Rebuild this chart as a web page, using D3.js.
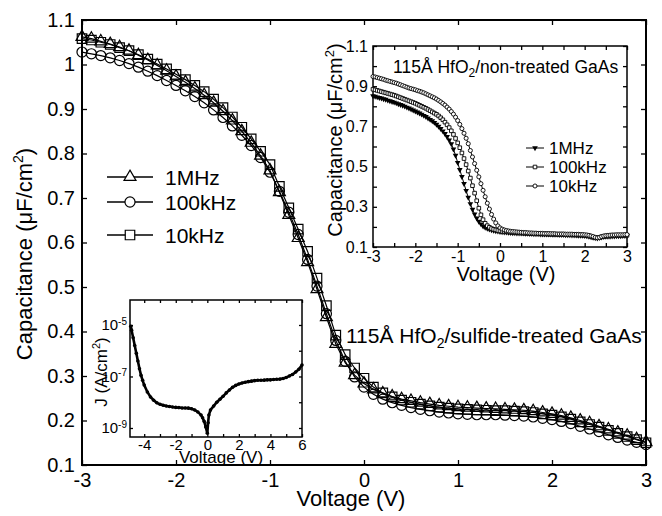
<!DOCTYPE html>
<html><head><meta charset="utf-8">
<script src="https://cdn.jsdelivr.net/npm/d3@7"></script>
<style>
body{margin:0;background:#fff}
svg{font-family:"Liberation Sans",Arial,sans-serif}
</style></head><body>
<svg width="662" height="516"></svg>
<script>
// main C-V, sulfide-treated GaAs, 0.1 V steps
var mainV = [-3.0,-2.9,-2.8,-2.7,-2.6,-2.5,-2.4,-2.3,-2.2,-2.1,
  -2.0,-1.9,-1.8,-1.7,-1.6,-1.5,-1.4,-1.3,-1.2,-1.1,
  -1.0,-0.9,-0.8,-0.7,-0.6,-0.5,-0.4,-0.3,-0.2,-0.1,
  0.0,0.1,0.2,0.3,0.4,0.5,0.6,0.7,0.8,0.9,
  1.0,1.1,1.2,1.3,1.4,1.5,1.6,1.7,1.8,1.9,
  2.0,2.1,2.2,2.3,2.4,2.5,2.6,2.7,2.8,2.9,3.0]
var c1MHz = [1.062,1.058,1.052,1.046,1.039,1.031,1.021,1.010,0.998,0.986,
  0.973,0.960,0.946,0.931,0.914,0.895,0.874,0.850,0.824,0.795,
  0.762,0.713,0.662,0.610,0.556,0.495,0.432,0.372,0.330,0.302,
  0.283,0.270,0.261,0.254,0.248,0.244,0.240,0.237,0.234,0.232,
  0.230,0.229,0.228,0.227,0.226,0.225,0.224,0.223,0.221,0.218,
  0.215,0.211,0.206,0.200,0.194,0.187,0.180,0.173,0.166,0.158,0.151]
var c100kHz = [1.028,1.024,1.020,1.015,1.009,1.002,0.994,0.985,0.975,0.964,
  0.953,0.941,0.928,0.914,0.898,0.881,0.862,0.841,0.818,0.791,
  0.758,0.715,0.668,0.618,0.562,0.502,0.440,0.380,0.333,0.298,
  0.275,0.259,0.248,0.240,0.234,0.229,0.225,0.222,0.219,0.217,
  0.215,0.214,0.213,0.213,0.213,0.212,0.211,0.210,0.208,0.205,
  0.202,0.198,0.193,0.187,0.181,0.175,0.168,0.162,0.156,0.151,0.146]
var c10kHz = [1.058,1.055,1.050,1.045,1.038,1.031,1.022,1.012,1.001,0.990,
  0.978,0.966,0.953,0.939,0.922,0.903,0.882,0.859,0.833,0.805,
  0.775,0.726,0.678,0.630,0.580,0.520,0.458,0.392,0.348,0.318,
  0.295,0.275,0.262,0.253,0.246,0.241,0.237,0.233,0.230,0.228,
  0.226,0.225,0.224,0.223,0.222,0.222,0.221,0.220,0.218,0.215,
  0.212,0.208,0.203,0.197,0.191,0.185,0.178,0.171,0.164,0.157,0.150]
var mainYTicks = [0.1,0.2,0.3,0.4,0.5,0.6,0.7,0.8,0.9,1,1.1]
var mainXTicks = [-3,-2,-1,0,1,2,3]
var legendNames = ["1MHz","100kHz","10kHz"]

// inset: non-treated GaAs, 0.05 V steps
var inV = [-3.00,-2.95,-2.90,-2.85,-2.80,-2.75,-2.70,-2.65,-2.60,-2.55,
  -2.50,-2.45,-2.40,-2.35,-2.30,-2.25,-2.20,-2.15,-2.10,-2.05,
  -2.00,-1.95,-1.90,-1.85,-1.80,-1.75,-1.70,-1.65,-1.60,-1.55,
  -1.50,-1.45,-1.40,-1.35,-1.30,-1.25,-1.20,-1.15,-1.10,-1.05,
  -1.00,-0.95,-0.90,-0.85,-0.80,-0.75,-0.70,-0.65,-0.60,-0.55,
  -0.50,-0.45,-0.40,-0.35,-0.30,-0.25,-0.20,-0.15,-0.10,-0.05,
  0.00,0.05,0.10,0.15,0.20,0.25,0.30,0.35,0.40,0.45,
  0.50,0.55,0.60,0.65,0.70,0.75,0.80,0.85,0.90,0.95,
  1.00,1.05,1.10,1.15,1.20,1.25,1.30,1.35,1.40,1.45,
  1.50,1.55,1.60,1.65,1.70,1.75,1.80,1.85,1.90,1.95,
  2.00,2.05,2.10,2.15,2.20,2.25,2.30,2.35,2.40,2.45,
  2.50,2.55,2.60,2.65,2.70,2.75,2.80,2.85,2.90,2.95,3.00]
var n1MHz = [0.852,0.849,0.846,0.843,0.840,0.837,0.834,0.830,0.827,0.823,
  0.820,0.816,0.812,0.808,0.804,0.800,0.795,0.791,0.786,0.781,
  0.776,0.771,0.766,0.760,0.754,0.748,0.741,0.734,0.727,0.719,
  0.710,0.700,0.689,0.677,0.664,0.649,0.632,0.613,0.587,0.556,
  0.520,0.485,0.450,0.415,0.380,0.347,0.315,0.287,0.263,0.243,
  0.227,0.214,0.204,0.197,0.192,0.188,0.185,0.182,0.180,0.178,
  0.176,0.175,0.174,0.173,0.172,0.171,0.170,0.170,0.169,0.169,
  0.168,0.168,0.167,0.167,0.166,0.166,0.165,0.165,0.165,0.164,
  0.164,0.164,0.163,0.163,0.163,0.162,0.162,0.162,0.161,0.161,
  0.161,0.160,0.160,0.160,0.159,0.159,0.159,0.158,0.158,0.157,
  0.156,0.155,0.153,0.150,0.147,0.145,0.144,0.146,0.149,0.151,
  0.152,0.153,0.153,0.154,0.154,0.155,0.155,0.155,0.156,0.156,0.156]
var n100kHz = [0.885,0.882,0.879,0.876,0.873,0.870,0.867,0.864,0.861,0.858,
  0.855,0.851,0.847,0.843,0.839,0.835,0.831,0.827,0.823,0.819,
  0.815,0.810,0.805,0.800,0.795,0.790,0.784,0.778,0.772,0.766,
  0.760,0.752,0.743,0.733,0.721,0.708,0.694,0.678,0.660,0.640,
  0.618,0.594,0.568,0.540,0.510,0.478,0.443,0.405,0.368,0.330,
  0.293,0.260,0.236,0.218,0.206,0.198,0.192,0.188,0.185,0.182,
  0.180,0.178,0.177,0.176,0.175,0.174,0.173,0.172,0.171,0.171,
  0.170,0.169,0.169,0.168,0.168,0.167,0.167,0.166,0.166,0.166,
  0.165,0.165,0.165,0.164,0.164,0.164,0.163,0.163,0.163,0.163,
  0.162,0.162,0.162,0.161,0.161,0.161,0.160,0.160,0.160,0.159,
  0.158,0.157,0.155,0.152,0.149,0.147,0.146,0.148,0.151,0.153,
  0.154,0.155,0.156,0.156,0.157,0.157,0.157,0.158,0.158,0.158,0.158]
var n10kHz = [0.948,0.946,0.943,0.940,0.937,0.934,0.930,0.927,0.924,0.921,
  0.918,0.915,0.911,0.907,0.903,0.899,0.895,0.891,0.888,0.885,
  0.882,0.878,0.875,0.871,0.867,0.862,0.857,0.852,0.847,0.842,
  0.836,0.829,0.822,0.814,0.806,0.796,0.786,0.774,0.761,0.746,
  0.729,0.710,0.689,0.666,0.641,0.614,0.580,0.548,0.515,0.482,
  0.449,0.415,0.382,0.350,0.318,0.289,0.262,0.239,0.220,0.205,
  0.195,0.189,0.185,0.182,0.180,0.178,0.177,0.176,0.175,0.174,
  0.173,0.172,0.172,0.171,0.170,0.170,0.169,0.169,0.168,0.168,
  0.168,0.167,0.167,0.167,0.166,0.166,0.166,0.165,0.165,0.165,
  0.165,0.164,0.164,0.164,0.164,0.163,0.163,0.163,0.162,0.162,
  0.161,0.160,0.158,0.155,0.152,0.148,0.146,0.148,0.152,0.155,
  0.157,0.158,0.159,0.160,0.160,0.161,0.161,0.161,0.161,0.162,0.162]
var inYTicks = [0.1,0.3,0.5,0.7,0.9,1.1]

// leakage J-V
var jV = [-4.85,-4.8,-4.7,-4.6,-4.5,-4.4,-4.3,-4.2,-4.1,-4.0,
  -3.8,-3.6,-3.4,-3.2,-3.0,-2.8,-2.6,-2.4,-2.2,-2.0,
  -1.8,-1.6,-1.4,-1.2,-1.0,-0.8,-0.6,-0.4,-0.3,-0.2,-0.1,0.0,
  0.05,0.1,0.2,0.4,0.6,0.8,1.0,1.2,1.4,1.6,1.8,2.0,
  2.2,2.4,2.6,2.8,3.0,3.2,3.4,3.6,3.8,4.0,
  4.2,4.4,4.6,4.8,5.0,5.2,5.4,5.6,5.8,6.0]
var jA = [8.9e-6,6.3e-6,3.2e-6,1.6e-6,7.9e-7,4.0e-7,2.0e-7,1.1e-7,7.1e-8,4.7e-8,
  2.5e-8,1.6e-8,1.2e-8,9.5e-9,8.3e-9,7.6e-9,7.1e-9,6.8e-9,6.5e-9,6.3e-9,
  6.2e-9,6.0e-9,6.0e-9,5.9e-9,5.6e-9,5.0e-9,4.2e-9,3.2e-9,2.5e-9,1.8e-9,1.1e-9,6.3e-10,
  1.6e-9,3.2e-9,5.0e-9,7.1e-9,1.0e-8,1.3e-8,1.7e-8,2.3e-8,3.0e-8,3.8e-8,4.5e-8,5.1e-8,
  5.6e-8,6.0e-8,6.3e-8,6.6e-8,6.9e-8,7.1e-8,7.1e-8,7.2e-8,7.4e-8,7.4e-8,
  7.6e-8,7.8e-8,7.9e-8,8.3e-8,9.1e-8,1.05e-7,1.2e-7,1.5e-7,1.9e-7,2.8e-7]
var jXTicks = [-4,-2,0,2,4,6]
var jYTicks = [1e-9,1e-7,1e-5]

var svg = d3.select("svg")
var plain = d => String(d)

function addFrame(x0, y0, x1, y1, w) {
  svg.append("rect").attr("x", x0).attr("y", y0)
    .attr("width", x1 - x0).attr("height", y1 - y0)
    .attr("fill", "#fff").attr("stroke", "#000").attr("stroke-width", w)
}

function cleanAxis(g) {
  g.select(".domain").remove()
  g.selectAll("line").attr("stroke", "#000").attr("stroke-width", 1.3)
  g.selectAll("text").attr("fill", "#000").attr("font-family", null)
}

// ---------- main chart ----------
var x = d3.scaleLinear().domain([-3, 3]).range([82, 646])
var y = d3.scaleLinear().domain([0.1, 1.1]).range([465, 20])

svg.append("g").attr("transform", "translate(0,465)")
  .call(d3.axisBottom(x).tickValues(mainXTicks).tickSizeInner(-5).tickSizeOuter(0).tickPadding(8).tickFormat(plain))
  .call(cleanAxis).attr("font-size", 20)
svg.append("g").attr("transform", "translate(0,20)")
  .call(d3.axisTop(x).tickValues(mainXTicks).tickSizeInner(-5).tickSizeOuter(0).tickFormat(""))
  .call(cleanAxis)
svg.append("g").attr("transform", "translate(82,0)")
  .call(d3.axisLeft(y).tickValues(mainYTicks).tickSizeInner(-5).tickSizeOuter(0).tickPadding(7)
    .tickFormat(d => d === 1 ? "1" : d3.format(".1f")(d)))
  .call(cleanAxis).attr("font-size", 20)
svg.append("g").attr("transform", "translate(646,0)")
  .call(d3.axisRight(y).tickValues(mainYTicks).tickSizeInner(-5).tickSizeOuter(0).tickFormat(""))
  .call(cleanAxis)

svg.append("path")
  .attr("d", `M82,20H646V465H82Z`)
  .attr("fill", "none").attr("stroke", "#000").attr("stroke-width", 2)

var mainSeries = [
  {vals: c100kHz, sym: d3.symbolCircle, size: 80},
  {vals: c1MHz, sym: d3.symbolTriangle, size: 62},
  {vals: c10kHz, sym: d3.symbolSquare, size: 90}
]
var line = d3.line().x(d => x(d[0])).y(d => y(d[1]))

mainSeries.forEach(s => {
  var pts = mainV.map((v, i) => [v, s.vals[i]])
  svg.append("path").datum(pts).attr("d", line)
    .attr("fill", "none").attr("stroke", "#000").attr("stroke-width", 1.2)
  svg.append("g").selectAll("path").data(pts).join("path")
    .attr("transform", d => `translate(${x(d[0])},${y(d[1])})`)
    .attr("d", d3.symbol(s.sym, s.size))
    .attr("fill", "none").attr("stroke", "#000").attr("stroke-width", 1.2)
})

// main legend
var legSyms = [[d3.symbolTriangle, 62], [d3.symbolCircle, 80], [d3.symbolSquare, 90]]
var legY = [177, 202, 235]
legendNames.forEach((n, i) => {
  svg.append("line").attr("x1", 107).attr("x2", 153).attr("y1", legY[i]).attr("y2", legY[i])
    .attr("stroke", "#000").attr("stroke-width", 1.3)
  svg.append("path").attr("transform", `translate(130,${legY[i]})`)
    .attr("d", d3.symbol(legSyms[i][0], legSyms[i][1])())
    .attr("fill", "#fff").attr("stroke", "#000").attr("stroke-width", 1.2)
  svg.append("text").attr("x", 165).attr("y", legY[i] + 7.5).attr("font-size", 21).text(n)
})

// annotation
var ann = svg.append("text").attr("x", 346).attr("y", 343).attr("font-size", 21)
ann.append("tspan").text("115Å HfO")
ann.append("tspan").attr("font-size", 14).attr("dy", 5).text("2")
ann.append("tspan").attr("dy", -5).text("/sulfide-treated GaAs")

// main labels
svg.append("text").attr("x", 351).attr("y", 506).attr("text-anchor", "middle")
  .attr("font-size", 22).text("Voltage (V)")
var yl = svg.append("text").attr("transform", "translate(32,254) rotate(-90)")
  .attr("text-anchor", "middle").attr("font-size", 22)
yl.append("tspan").text("Capacitance (μF/cm")
yl.append("tspan").attr("font-size", 14).attr("dy", -9).text("2")
yl.append("tspan").attr("dy", 9).text(")")

// ---------- inset 1: non-treated ----------
var ix = d3.scaleLinear().domain([-3, 3]).range([373, 627])
var iy = d3.scaleLinear().domain([0.1, 1.1]).range([247, 46])
addFrame(373, 46, 627, 247, 1.5)

var halfV = [-3,-2.5,-2,-1.5,-1,-0.5,0,0.5,1,1.5,2,2.5,3]
var tenthC = [0.1,0.2,0.3,0.4,0.5,0.6,0.7,0.8,0.9,1.0,1.1]
svg.append("g").attr("transform", "translate(0,247)")
  .call(d3.axisBottom(ix).tickValues(halfV).tickSizeInner(-4).tickSizeOuter(0).tickFormat(""))
  .call(cleanAxis)
svg.append("g").attr("transform", "translate(0,247)")
  .call(d3.axisBottom(ix).tickValues(mainXTicks).tickSizeInner(0).tickSizeOuter(0).tickPadding(4).tickFormat(plain))
  .call(cleanAxis).attr("font-size", 16)
svg.append("g").attr("transform", "translate(0,46)")
  .call(d3.axisTop(ix).tickValues(halfV).tickSizeInner(-4).tickSizeOuter(0).tickFormat(""))
  .call(cleanAxis)
svg.append("g").attr("transform", "translate(373,0)")
  .call(d3.axisLeft(iy).tickValues(tenthC).tickSizeInner(-4).tickSizeOuter(0).tickFormat(""))
  .call(cleanAxis)
svg.append("g").attr("transform", "translate(373,0)")
  .call(d3.axisLeft(iy).tickValues(inYTicks).tickSizeInner(0).tickSizeOuter(0).tickPadding(5)
    .tickFormat(d3.format(".1f")))
  .call(cleanAxis).attr("font-size", 16)
svg.append("g").attr("transform", "translate(627,0)")
  .call(d3.axisRight(iy).tickValues(tenthC).tickSizeInner(-4).tickSizeOuter(0).tickFormat(""))
  .call(cleanAxis)

var triDown = d3.symbol(d3.symbolTriangle, 14)
var inSeries = [
  {vals: n1MHz, draw: g => g.attr("d", triDown).attr("fill", "#000").attr("stroke", "none"), rot: 180},
  {vals: n100kHz, draw: g => g.attr("d", d3.symbol(d3.symbolSquare, 13)).attr("fill", "#fff").attr("stroke", "#000").attr("stroke-width", 0.9), rot: 0},
  {vals: n10kHz, draw: g => g.attr("d", d3.symbol(d3.symbolCircle, 13)).attr("fill", "#fff").attr("stroke", "#000").attr("stroke-width", 0.9), rot: 0}
]
var iline = d3.line().x(d => ix(d[0])).y(d => iy(d[1]))
inSeries.forEach(s => {
  var pts = inV.map((v, i) => [v, s.vals[i]])
  svg.append("path").datum(pts).attr("d", iline)
    .attr("fill", "none").attr("stroke", "#000").attr("stroke-width", 1)
  svg.append("g").selectAll("path").data(pts).join("path")
    .attr("transform", d => `translate(${ix(d[0])},${iy(d[1])}) rotate(${s.rot})`)
    .call(s.draw)
})

// inset 1 legend
var inLegY = [148, 167, 186]
inSeries.forEach((s, i) => {
  svg.append("line").attr("x1", 526).attr("x2", 544).attr("y1", inLegY[i]).attr("y2", inLegY[i])
    .attr("stroke", "#000").attr("stroke-width", 1)
  svg.append("path").attr("transform", `translate(535,${inLegY[i]}) rotate(${s.rot})`).call(s.draw)
  svg.append("text").attr("x", 549).attr("y", inLegY[i] + 6).attr("font-size", 17).text(legendNames[i])
})

var ann2 = svg.append("text").attr("x", 393).attr("y", 73).attr("font-size", 17.5)
ann2.append("tspan").text("115Å HfO")
ann2.append("tspan").attr("font-size", 12).attr("dy", 4).text("2")
ann2.append("tspan").attr("dy", -4).text("/non-treated GaAs")

svg.append("text").attr("x", 506).attr("y", 281).attr("text-anchor", "middle")
  .attr("font-size", 20).text("Voltage (V)")
var yl2 = svg.append("text").attr("transform", "translate(342,140) rotate(-90)")
  .attr("text-anchor", "middle").attr("font-size", 20)
yl2.append("tspan").text("Capacitance (μF/cm")
yl2.append("tspan").attr("font-size", 13).attr("dy", -8).text("2")
yl2.append("tspan").attr("dy", 8).text(")")

// ---------- inset 2: J-V ----------
var jx = d3.scaleLinear().domain([-4.9, 6]).range([130, 302])
var jy = d3.scaleLog().domain([Math.pow(10, -9.35), Math.pow(10, -4.03)]).range([437, 300])
addFrame(130, 300, 302, 437, 1.5)

var unitV = [-4,-3,-2,-1,0,1,2,3,4,5,6]
var decades = [1e-9,1e-8,1e-7,1e-6,1e-5]
svg.append("g").attr("transform", "translate(0,437)")
  .call(d3.axisBottom(jx).tickValues(unitV).tickSizeInner(-3).tickSizeOuter(0).tickFormat(""))
  .call(cleanAxis)
svg.append("g").attr("transform", "translate(0,437)")
  .call(d3.axisBottom(jx).tickValues(jXTicks).tickSizeInner(0).tickSizeOuter(0).tickPadding(2).tickFormat(plain))
  .call(cleanAxis).attr("font-size", 15)
svg.append("g").attr("transform", "translate(0,300)")
  .call(d3.axisTop(jx).tickValues(unitV).tickSizeInner(-3).tickSizeOuter(0).tickFormat(""))
  .call(cleanAxis)
svg.append("g").attr("transform", "translate(302,0)")
  .call(d3.axisRight(jy).tickValues(decades).tickSizeInner(-3).tickSizeOuter(0).tickFormat(""))
  .call(cleanAxis)
var jyAxis = svg.append("g").attr("transform", "translate(130,0)")
  .call(d3.axisLeft(jy).tickValues(jYTicks).tickSizeInner(-3).tickSizeOuter(0).tickPadding(3))
  .call(cleanAxis).attr("font-size", 15)
jyAxis.selectAll("text").each(function(d) {
  var t = d3.select(this).text("")
  t.append("tspan").text("10")
  t.append("tspan").attr("font-size", 10).attr("dy", "-0.55em").text(String(Math.round(Math.log10(d))))
})

var jline = d3.line().x(d => jx(d[0])).y(d => jy(d[1]))
var jpts = jV.map((v, i) => [v, jA[i]])
svg.append("path").datum(jpts).attr("d", jline)
  .attr("fill", "none").attr("stroke", "#000").attr("stroke-width", 2.6)
svg.append("g").selectAll("circle").data(jpts).join("circle")
  .attr("cx", d => jx(d[0])).attr("cy", d => jy(d[1])).attr("r", 1.8).attr("fill", "#000")

svg.append("text").attr("x", 221).attr("y", 463).attr("text-anchor", "middle")
  .attr("font-size", 17).text("Voltage (V)")
var jl = svg.append("text").attr("transform", "translate(107,372) rotate(-90)")
  .attr("text-anchor", "middle").attr("font-size", 17)
jl.append("tspan").text("J (A/cm")
jl.append("tspan").attr("font-size", 11).attr("dy", -7).text("2")
jl.append("tspan").attr("dy", 7).text(")")
</script>
</body></html>
